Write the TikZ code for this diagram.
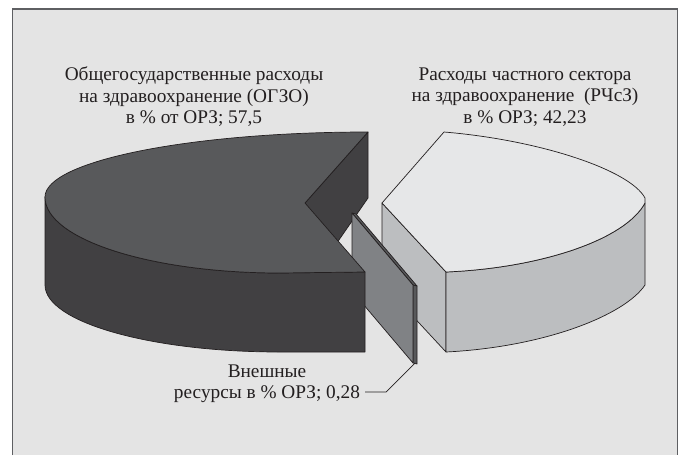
\documentclass[tikz,border=0pt]{standalone}
\usepackage{fontspec}
\setmainfont{Liberation Serif}
\definecolor{bgGray}{HTML}{E4E4E4}
\definecolor{frameGray}{HTML}{5E5F62}
\definecolor{darkTop}{HTML}{58595B}
\definecolor{darkSide}{HTML}{414042}
\definecolor{midFace}{HTML}{808285}
\definecolor{midEdge}{HTML}{58595B}
\definecolor{lightTop}{HTML}{E6E7E8}
\definecolor{lightSide}{HTML}{BCBEC0}
\definecolor{inkBlack}{HTML}{231F20}
\begin{document}
\begin{tikzpicture}[x=1pt,y=-1pt,
    edge/.style={draw=inkBlack, line width=0.7pt, line join=round},
    lbl/.style={align=center, inner sep=0pt, text=inkBlack,
      font=\fontsize{19.3}{21.5}\selectfont}]
    \useasboundingbox (0,0) rectangle (679,455);
    \fill[white] (0,0) rectangle (679,455);
    \fill[bgGray] (12.5,9) rectangle (677.5,455);
    \draw[frameGray, line width=1.5pt] (12.5,455) -- (12.5,9) -- (677.5,9) -- (677.5,455);
    % light slice
    \filldraw[edge, fill=lightSide] (382,203) -- (446,272) -- (446,352) -- (382,283) -- cycle;
    \filldraw[edge, fill=lightSide] (446,272) .. controls (540,268) and (625,240) .. (645,203) -- (645,285) .. controls (625,315) and (545,347) .. (446,352) -- cycle;
    \filldraw[edge, fill=lightTop] (446,272) -- (382,203) -- (444,132) .. controls (540,140) and (630,170) .. (645,198) -- (645,203) .. controls (625,240) and (540,268) .. (446,272) -- cycle;
    % dark slice, cut face
    \filldraw[edge, fill=darkSide] (305,203) -- (368,132) -- (368,198) -- (305,289) -- cycle;
    % external resources panel
    \filldraw[edge, fill=midEdge] (352,213) -- (356,214) -- (417,286) -- (413,285) -- cycle;
    \filldraw[edge, fill=midEdge] (413,285) -- (417,286) -- (417,364) -- (413,363) -- cycle;
    \filldraw[edge, fill=midFace] (352,213) -- (413,285) -- (413,363) -- (352,291) -- cycle;
    % dark slice, side and top
    \filldraw[edge, fill=darkSide] (45,197) -- (45,285) .. controls (45,322) and (150,352) .. (280,352) -- (365,352) -- (365,272) -- (280,273) .. controls (150,273) and (45,239) .. (45,197) -- cycle;
    \filldraw[edge, fill=darkTop] (305,203) -- (368,132) .. controls (190,132) and (45,161) .. (45,197) .. controls (45,239) and (150,273) .. (280,273) -- (365,272) -- cycle;
    % labels
    \node[lbl] (ogzo) at (194,97) {Общегосударственные расходы\\на здравоохранение (ОГЗО)\\в \% от ОРЗ; 57,5};
    \node[lbl] (rchsz) at (525,97) {Расходы частного сектора\\на здравоохранение\ \ (РЧсЗ)\\в \% ОРЗ; 42,23};
    \node[lbl] (ext) at (267,384) {Внешные\\ресурсы в \% ОРЗ; 0,28};
    \coordinate (knee) at (386,392);
    \coordinate (extTip) at (415,363);
    \draw[edge] (ext.east |- knee) ++(5,0) -- (knee) -- (extTip);
\end{tikzpicture}
\end{document}
